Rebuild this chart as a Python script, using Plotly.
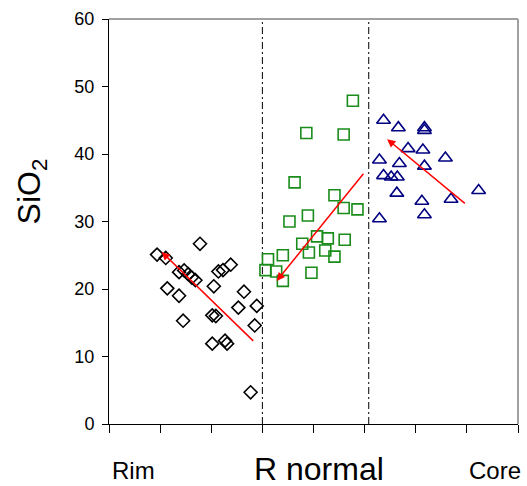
import plotly.graph_objects as go

# Rim zone (diamonds)
rim_x = [0.94, 1.11, 1.78, 1.37, 1.47, 1.55, 1.62, 1.69, 2.14, 2.23, 2.38, 1.14, 1.37,
         2.05, 2.64, 2.53, 2.89, 1.45, 2.02, 2.09, 2.85, 2.02, 2.27, 2.31, 2.77]
rim_y = [25.1, 24.6, 26.7, 22.5, 22.75, 22.2, 21.7, 21.3, 22.6, 22.8, 23.6, 20.1, 19.0,
         20.4, 19.6, 17.25, 17.5, 15.3, 16.1, 16.0, 14.6, 11.9, 12.35, 11.9, 4.7]

# Intermediate zone (squares)
mid_x = [4.77, 3.86, 4.59, 3.63, 4.41, 4.59, 4.86, 3.89, 3.53, 4.07, 4.28, 4.61, 3.78,
         3.91, 4.23, 4.41, 3.40, 3.11, 3.06, 3.27, 3.96, 3.40]
mid_y = [47.9, 43.1, 42.9, 35.8, 33.9, 32.0, 31.8, 30.9, 30.0, 27.8, 27.5, 27.3, 26.7,
         25.4, 25.7, 24.8, 25.0, 24.4, 22.8, 22.6, 22.4, 21.2]

# Core zone (triangles)
core_x = [5.37, 5.66, 6.17, 6.17, 5.85, 6.14, 6.58, 5.29, 5.68, 6.17, 5.37, 5.52, 5.64,
          5.63, 6.12, 6.69, 7.23, 6.17, 5.29]
core_y = [45.0, 43.9, 43.9, 43.5, 40.8, 40.6, 39.4, 39.1, 38.6, 38.2, 36.8, 36.6, 36.6,
          34.2, 33.0, 33.3, 34.6, 31.0, 30.4]

# Trend arrows: [tail, head]
rim_trend_x, rim_trend_y = [2.85, 1.03], [12.1, 25.5]
mid_trend_x, mid_trend_y = [5.00, 3.28], [37.3, 21.2]
core_trend_x, core_trend_y = [6.99, 5.44], [32.5, 42.2]

# Zone boundaries
boundaries = [3.0, 5.08]

FONT = "Arial, Liberation Sans, sans-serif"

fig = go.Figure()
fig.add_trace(go.Scatter(x=rim_x, y=rim_y, mode="markers",
                         marker=dict(symbol="diamond-open", size=10, color="black",
                                     line=dict(width=1.6, color="black"))))
fig.add_trace(go.Scatter(x=mid_x, y=mid_y, mode="markers",
                         marker=dict(symbol="square-open", size=11, color="#1a8c1a",
                                     line=dict(width=1.6, color="#1a8c1a"))))
fig.add_trace(go.Scatter(x=core_x, y=core_y, mode="markers",
                         marker=dict(symbol="triangle-up-open", size=12, color="#000080",
                                     line=dict(width=1.6, color="#000080"))))

for bx in boundaries:
    fig.add_shape(type="line", x0=bx, x1=bx, y0=0, y1=60, xref="x", yref="y",
                  line=dict(color="black", width=1, dash="7px,3px,2px,3px"), layer="below")

# light frame on top and right
fig.add_shape(type="line", xref="paper", yref="paper", x0=0, x1=1, y0=1, y1=1,
              line=dict(color="#a0a0a0", width=2))
fig.add_shape(type="line", xref="paper", yref="paper", x0=1, x1=1, y0=0, y1=1,
              line=dict(color="#a0a0a0", width=2))

for tx, ty in [(rim_trend_x, rim_trend_y), (mid_trend_x, mid_trend_y),
               (core_trend_x, core_trend_y)]:
    fig.add_annotation(x=tx[1], y=ty[1], ax=tx[0], ay=ty[0], xref="x", yref="y",
                       axref="x", ayref="y", text="", showarrow=True,
                       arrowhead=2, arrowsize=1.1, arrowwidth=1.5, arrowcolor="red")

fig.add_annotation(text="Rim", xref="paper", yref="paper", x=0.059, y=-0.115,
                   showarrow=False, font=dict(family=FONT, size=24, color="black"),
                   xanchor="center", yanchor="middle", borderpad=0)
fig.add_annotation(text="Core", xref="paper", yref="paper", x=0.943, y=-0.115,
                   showarrow=False, font=dict(family=FONT, size=24, color="black"),
                   xanchor="center", yanchor="middle", borderpad=0)
fig.add_annotation(text="R normal", xref="paper", yref="paper", x=0.513, y=-0.112,
                   showarrow=False, font=dict(family=FONT, size=32, color="black"),
                   xanchor="center", yanchor="middle", borderpad=0)
fig.add_annotation(text="SiO<sub>2</sub>", xref="paper", yref="paper", x=-0.19, y=0.575,
                   showarrow=False, textangle=-90,
                   font=dict(family=FONT, size=32, color="black"),
                   xanchor="center", yanchor="middle")

fig.update_layout(
    width=527, height=486,
    margin=dict(l=109, r=9, t=16, b=62),
    paper_bgcolor="white", plot_bgcolor="white",
    showlegend=False,
    font=dict(family=FONT, color="black"),
    xaxis=dict(range=[0, 8], dtick=1, tick0=0, showgrid=False, zeroline=False,
               showline=True, linecolor="black", linewidth=1,
               ticks="outside", ticklen=8, tickcolor="black", showticklabels=False),
    yaxis=dict(range=[0, 60], dtick=10, tick0=0, showgrid=False, zeroline=False,
               showline=True, linecolor="black", linewidth=1,
               ticks="outside", ticklen=6, tickcolor="black", ticklabelstandoff=4,
               tickfont=dict(family=FONT, size=18, color="black")),
)

fig.write_html("out.html")
